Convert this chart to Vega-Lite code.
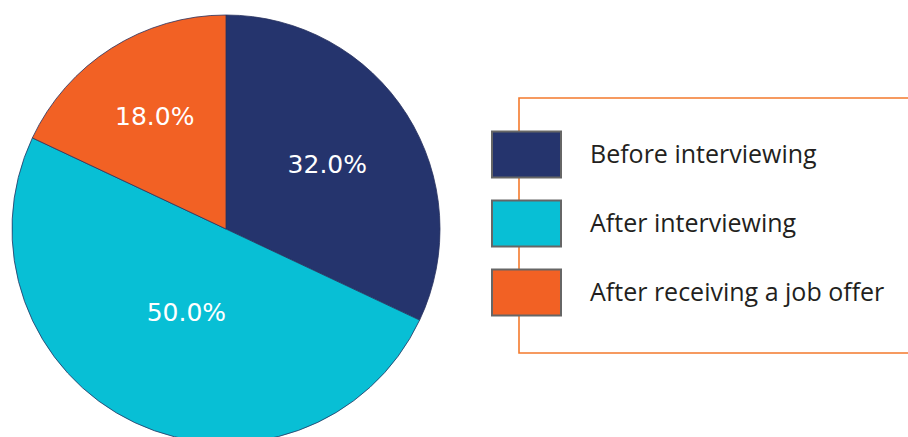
{
  "$schema": "https://vega.github.io/schema/vega-lite/v6.json",
  "width": 452,
  "height": 458,
  "autosize": "none",
  "padding": {"left": 0, "top": 0, "right": 456, "bottom": 0},
  "background": "white",
  "config": {"view": {"stroke": null}, "legend": {"strokeWidth": 1.6}},
  "data": {
    "values": [
      {"category": "Before interviewing", "share": 0.32, "idx": 1},
      {"category": "After interviewing", "share": 0.50, "idx": 2},
      {"category": "After receiving a job offer", "share": 0.18, "idx": 3}
    ]
  },
  "encoding": {
    "theta": {"field": "share", "type": "quantitative", "stack": true},
    "order": {"field": "idx", "type": "quantitative"},
    "color": {
      "field": "category",
      "type": "nominal",
      "sort": ["Before interviewing", "After interviewing", "After receiving a job offer"],
      "scale": {
        "domain": ["Before interviewing", "After interviewing", "After receiving a job offer"],
        "range": ["#25346d", "#08bfd5", "#f26124"]
      },
      "legend": {
        "title": " ",
        "titleFontSize": 1,
        "titlePadding": 10,
        "orient": "none",
        "legendX": 519,
        "legendY": 98,
        "padding": 33,
        "strokeColor": "#f47a2c",
        "cornerRadius": 0,
        "symbolType": "M-3,-2H3V2H-3Z",
        "symbolSize": 529,
        "symbolStrokeColor": "#666666",
        "symbolStrokeWidth": 2,
        "symbolOpacity": 1,
        "symbolOffset": -38,
        "labelOffset": 51,
        "rowPadding": 14,
        "labelFont": "Open Sans",
        "labelFontSize": 25,
        "labelColor": "#231f20",
        "labelLimit": 500,
        "labelBaseline": "middle"
      }
    }
  },
  "layer": [
    {
      "mark": {"type": "arc", "outerRadius": 214, "stroke": "#28325f", "strokeWidth": 0.8}
    },
    {
      "mark": {
        "type": "text",
        "radius": {"expr": "datum.idx == 1 ? 120 : datum.idx == 2 ? 93 : 133"},
        "font": "DejaVu Sans",
        "fontSize": 25,
        "fill": "white"
      },
      "encoding": {
        "text": {"field": "share", "type": "quantitative", "format": ".1%"},
        "color": {"value": "white"}
      }
    }
  ]
}
